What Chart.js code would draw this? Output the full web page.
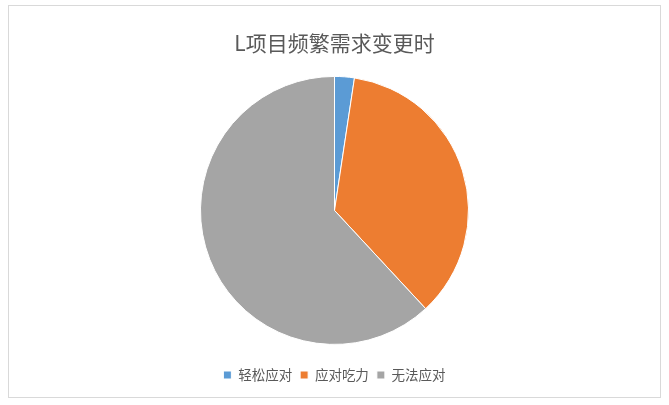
<!DOCTYPE html>
<html>
<head>
<meta charset="utf-8">
<script src="https://cdn.jsdelivr.net/npm/chart.js@4/dist/chart.umd.min.js"></script>
<style>
  body { margin: 0; background: #fff; }
  #box { position: absolute; left: 8px; top: 5px; width: 651px; height: 391px; border: 1px solid #d9d9d9; }
</style>
</head>
<body>
<div id="box"><canvas id="grafico"></canvas></div>
<script>
const titulo = 'L项目频繁需求变更时'
const categorias = ['轻松应对', '应对吃力', '无法应对']
const valores = [1, 15, 26]
const cores = ['#5B9BD5', '#ED7D31', '#A5A5A5']

const fonte = '"Noto Sans CJK SC", "Noto Sans", sans-serif'
const ctx = document.getElementById('grafico')

let grafico = new Chart(ctx, {
  type: 'pie',
  data: {
    labels: categorias,
    datasets: [{
      data: valores,
      backgroundColor: cores,
      borderColor: '#ffffff',
      borderWidth: 1
    }]
  },
  options: {
    responsive: true,
    maintainAspectRatio: false,
    animation: false,
    radius: 134,
    layout: { padding: { top: 0, bottom: 5.25, left: 0, right: 0 } },
    plugins: {
      title: {
        display: true,
        text: titulo,
        color: '#595959',
        font: { family: fonte, size: 21, weight: 'normal' },
        padding: { top: 24.4, bottom: 5 }
      },
      legend: {
        position: 'bottom',
        labels: {
          color: '#595959',
          font: { family: fonte, size: 13.5 },
          boxWidth: 8,
          boxHeight: 8,
          padding: 8
        }
      },
      tooltip: { enabled: false }
    }
  }
})
</script>
</body>
</html>
